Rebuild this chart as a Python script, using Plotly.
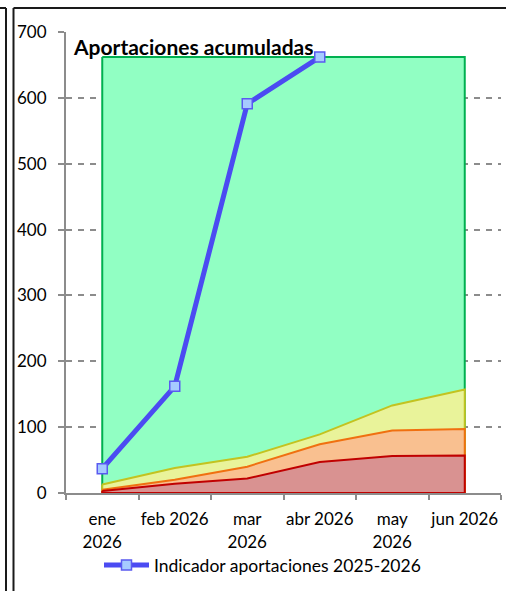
import plotly.graph_objects as go

meses = ["ene 2026", "feb 2026", "mar 2026", "abr 2026", "may 2026", "jun 2026"]
etiquetas_meses = ["ene<br>2026", "feb 2026", "mar<br>2026", "abr 2026", "may<br>2026", "jun 2026"]

capa_roja = [3, 14, 22, 47, 56, 57]
capa_naranja = [2, 6, 18, 27, 39, 40]
capa_amarilla = [8, 18, 15, 15, 38, 60]
objetivo = [662, 662, 662, 662, 662, 662]

indicador_meses = ["ene 2026", "feb 2026", "mar 2026", "abr 2026"]
indicador = [37, 162, 591, 662]

titulo = "Aportaciones acumuladas"
nombre_indicador = "Indicador aportaciones 2025-2026"

FONT = "Lato"

# cumulative tops for stacked layers
top_rojo = capa_roja
top_naranja = [a + b for a, b in zip(capa_roja, capa_naranja)]
top_amarillo = [a + b for a, b in zip(top_naranja, capa_amarilla)]


def poly(tops, fill, line):
    xs = meses + [meses[-1], meses[0], meses[0]]
    ys = list(tops) + [0, 0, tops[0]]
    return go.Scatter(x=xs, y=ys, mode="lines", fill="toself", fillcolor=fill,
                      line=dict(color=line, width=2), showlegend=False,
                      hoverinfo="skip")


fig = go.Figure()
fig.add_trace(poly(objetivo, "#91FFC3", "#00B050"))
fig.add_trace(poly(top_amarillo, "#E9F39A", "#C3C320"))
fig.add_trace(poly(top_naranja, "#F9C090", "#F07010"))
fig.add_trace(poly(top_rojo, "#D99291", "#C00000"))
fig.add_trace(go.Scatter(
    x=indicador_meses, y=indicador, mode="lines+markers", name=nombre_indicador,
    line=dict(color="#4B4BF2", width=5),
    marker=dict(symbol="square", size=10, color="#A6CAFF",
                line=dict(color="#5A5AF0", width=1.5)),
))

W, H = 506, 591
L, R, T, B = 66, 5, 32, 98
pw, ph = W - L - R, H - T - B


def px_x(px):
    return (px - L) / pw


def px_y(py):
    return (H - B - py) / ph


shapes = []
# frame lines
for xx in (6, 13.5):
    shapes.append(dict(type="line", xref="paper", yref="paper",
                       x0=px_x(xx), x1=px_x(xx), y0=px_y(8), y1=px_y(H + 5),
                       line=dict(color="#1a1a1a", width=2)))
shapes.append(dict(type="line", xref="paper", yref="paper",
                   x0=px_x(13.5), x1=px_x(W + 5), y0=px_y(8), y1=px_y(8),
                   line=dict(color="#1a1a1a", width=2)))
shapes.append(dict(type="line", xref="paper", yref="paper",
                   x0=px_x(-5), x1=px_x(6), y0=px_y(8), y1=px_y(8),
                   line=dict(color="#1a1a1a", width=2)))

fig.update_layout(
    width=W, height=H,
    margin=dict(l=L, r=R, t=T, b=B, autoexpand=False),
    paper_bgcolor="white", plot_bgcolor="white",
    font=dict(family=FONT, size=17, color="black"),
    shapes=shapes,
    annotations=[dict(text="<b>" + titulo + "</b>", xref="paper", yref="paper",
                      x=px_x(71), y=px_y(47), xanchor="left", yanchor="middle",
                      showarrow=False, font=dict(family=FONT, size=21, color="black"))],
    legend=dict(orientation="h", x=px_x(99), y=px_y(547), xanchor="left", yanchor="top",
                font=dict(family=FONT, size=17.5), bgcolor="rgba(0,0,0,0)",
                itemwidth=45),
    xaxis=dict(type="category", categoryorder="array", categoryarray=meses,
               tickvals=meses, ticktext=etiquetas_meses, tickson="boundaries",
               range=[-0.5, 5.5], tickangle=0, automargin=False, ticklabelstandoff=10,
               ticks="outside", ticklen=5, tickcolor="#8c8c8c", tickwidth=2,
               showline=True, linecolor="#8c8c8c", linewidth=2,
               showgrid=False, zeroline=False, fixedrange=True),
    yaxis=dict(range=[0, 700], dtick=100, ticks="outside", ticklen=6,
               tickcolor="#8c8c8c", tickwidth=1.5, automargin=False,
               showline=True, linecolor="#8c8c8c", linewidth=2,
               showgrid=True, gridcolor="#8c8c8c", gridwidth=1.5, griddash="6px,6px",
               zeroline=False, ticklabelstandoff=8, fixedrange=True),
)

fig.write_html("out.html", config={"displayModeBar": False},
               post_script="document.body.style.margin='0';document.body.style.overflow='hidden';")
